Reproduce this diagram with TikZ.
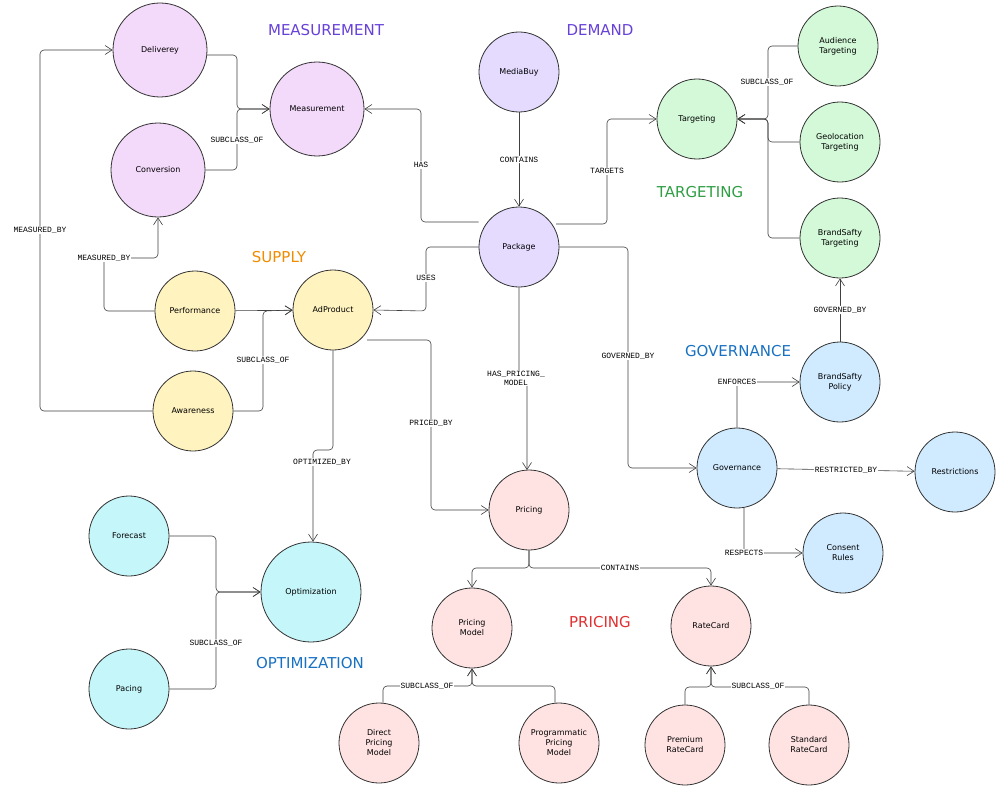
\documentclass[tikz,border=0pt]{standalone}
\usepackage{fontspec}
\setmainfont{DejaVu Sans}
\newfontfamily\lblfont{Liberation Mono}
\usetikzlibrary{arrows.meta}
\definecolor{cpur}{HTML}{F3D9FA}
\definecolor{cdem}{HTML}{E5DBFF}
\definecolor{cgrn}{HTML}{D3F9D8}
\definecolor{cyel}{HTML}{FFF3BF}
\definecolor{cblu}{HTML}{D0EBFF}
\definecolor{cred}{HTML}{FFE3E3}
\definecolor{ccyn}{HTML}{C5F6FA}
\definecolor{tpur}{HTML}{6741D9}
\definecolor{tgrn}{HTML}{2F9E44}
\definecolor{tora}{HTML}{F08C00}
\definecolor{tblu}{HTML}{1971C2}
\definecolor{tred}{HTML}{E03131}
\begin{document}
\begin{tikzpicture}[x=1pt,y=-1pt,
  n/.style={circle,draw=black!80,line width=0.8pt,minimum size=80pt,inner sep=1pt,align=center,font=\fontsize{8}{10}\selectfont},
  big/.style={minimum size=100pt},
  mini/.style={minimum size=94pt},
  e/.style={draw=black!75,line width=0.6pt,rounded corners=4pt,-{Straight Barb[length=7pt,width=9pt]}},
  l/.style={fill=white,inner sep=1pt,font=\lblfont\fontsize{8}{9}\selectfont,align=center},
  t/.style={font=\fontsize{15}{17}\selectfont}]
\useasboundingbox (0,0) rectangle (1000,789);
\fill[white] (0,0) rectangle (1000,789);
% nodes
\node[n,mini,fill=cpur] (del) at (160,50) {Deliverey};
\node[n,mini,fill=cpur] (mea) at (317,109) {Measurement};
\node[n,mini,fill=cpur] (con) at (158,170) {Conversion};
\node[n,fill=cdem] (mb) at (519,72) {MediaBuy};
\node[n,fill=cdem] (pkg) at (519,247) {Package};
\node[n,fill=cgrn] (tar) at (697,119) {Targeting};
\node[n,fill=cgrn] (aud) at (838,46) {Audience\\Targeting};
\node[n,fill=cgrn] (geo) at (840,142) {Geolocation\\Targeting};
\node[n,fill=cgrn] (bst) at (840,238) {BrandSafty\\Targeting};
\node[n,fill=cyel] (perf) at (195,311) {Performance};
\node[n,fill=cyel] (adp) at (333,310) {AdProduct};
\node[n,fill=cyel] (awa) at (193,411) {Awareness};
\node[n,fill=cblu] (bsp) at (840,382) {BrandSafty\\Policy};
\node[n,fill=cblu] (gov) at (737,468) {Governance};
\node[n,fill=cblu] (res) at (955,472) {Restrictions};
\node[n,fill=cblu] (cons) at (843,553) {Consent\\Rules};
\node[n,fill=cred] (pri) at (529,510) {Pricing};
\node[n,fill=cred] (pm) at (472,628) {Pricing\\Model};
\node[n,fill=cred] (rc) at (711,626) {RateCard};
\node[n,fill=cred] (dpm) at (379,743) {Direct\\Pricing\\Model};
\node[n,fill=cred] (ppm) at (559,743) {Programmatic\\Pricing\\Model};
\node[n,fill=cred] (prc) at (685,745) {Premium\\RateCard};
\node[n,fill=cred] (src) at (809,745) {Standard\\RateCard};
\node[n,fill=ccyn] (fc) at (129,536) {Forecast};
\node[n,big,fill=ccyn] (opt) at (311,592) {Optimization};
\node[n,fill=ccyn] (pac) at (129,689) {Pacing};
% titles
\node[t,text=tpur] (t1) at (326,30) {MEASUREMENT};
\node[t,text=tpur] (t2) at (600,30) {DEMAND};
\node[t,text=tgrn] (t3) at (700,192) {TARGETING};
\node[t,text=tora] (t4) at (279,257) {SUPPLY};
\node[t,text=tblu] (t5) at (738,351) {GOVERNANCE};
\node[t,text=tred] (t6) at (600,622) {PRICING};
\node[t,text=tblu] (t7) at (310,663) {OPTIMIZATION};
% measurement
\draw[e] (207,55) -- (237,55) -- (237,109) -- (mea.west);
\draw[e] (con.east) -- (237,170) -- (237,109) -- (mea.west);
\node[l] at (237,140) {SUBCLASS\_OF};
\draw[e] (pkg.west |- 0,222) -- (421,222) -- (421,109) -- (mea.east);
\node[l] at (421,165) {HAS};
\draw[e] (mb) -- node[l]{CONTAINS} (pkg);
\draw[e] (556,224) -- (607,224) -- (607,119) -- (tar.west);
\node[l] at (607,171) {TARGETS};
\draw[e] (aud.west) -- (768,46) -- (768,119) -- (tar.east);
\draw[e] (geo.west) -- (768,142) -- (768,119) -- (tar.east);
\draw[e] (bst.west) -- (768,238) -- (768,119) -- (tar.east);
\node[l] at (767,82) {SUBCLASS\_OF};
\draw[e] (pkg.west) -- (426,247) -- (426,311) -- (adp.east);
\node[l] at (426,278) {USES};
\draw[e] (perf.west) -- (104,311) -- (104,258) -- (158,258) -- (con.south);
\node[l] at (104,258) {MEASURED\_BY};
\draw[e] (awa.west) -- (40,411) -- (40,50) -- (del.west);
\node[l] at (40,230) {MEASURED\_BY};
\draw[e] (perf) -- (adp);
\draw[e] (awa.east) -- (263,411) -- (263,311) -- (adp.west);
\node[l] at (263,360) {SUBCLASS\_OF};
\draw[e] (adp.south) -- (333,450) -- (313,450) -- (opt.north -| 313,0);
\node[l] at (322,462) {OPTIMIZED\_BY};
\draw[e] (367,340) -- (431,340) -- (431,510) -- (pri.west);
\node[l] at (431,423) {PRICED\_BY};
\draw[e] (pkg.south) -- (519,380) -- (527,380) -- (527,470);
\node[l] at (516,378) {HAS\_PRICING\_\\MODEL};
\draw[e] (pkg.east) -- (628,247) -- (628,468) -- (gov.west);
\node[l] at (628,356) {GOVERNED\_BY};
\draw[e] (gov.north) -- (737,382) -- (bsp.west);
\node[l] at (737,382) {ENFORCES};
\draw[e] (bsp) -- node[l]{GOVERNED\_BY} (bst);
\draw[e] (gov) -- node[l]{RESTRICTED\_BY} (res);
\draw[e] (744,508) -- (744,553) -- (cons.west);
\node[l] at (744,553) {RESPECTS};
\draw[e] (pri.south) -- (529,568) -- (472,568) -- (pm.north);
\draw[e] (pri.south) -- (529,568) -- (711,568) -- (rc.north);
\node[l] at (620,568) {CONTAINS};
\draw[e] (dpm.north -| 383,0) -- (383,686) -- (472,686) -- (pm.south);
\draw[e] (ppm.north -| 555,0) -- (555,686) -- (472,686) -- (pm.south);
\node[l] at (427,686) {SUBCLASS\_OF};
\draw[e] (prc.north) -- (685,687) -- (711,687) -- (rc.south);
\draw[e] (src.north) -- (809,687) -- (711,687) -- (rc.south);
\node[l] at (758,686) {SUBCLASS\_OF};
\draw[e] (fc.east) -- (216,536) -- (216,592) -- (opt.west);
\draw[e] (pac.east) -- (216,689) -- (216,592) -- (opt.west);
\node[l] at (216,643) {SUBCLASS\_OF};
\end{tikzpicture}
\end{document}
